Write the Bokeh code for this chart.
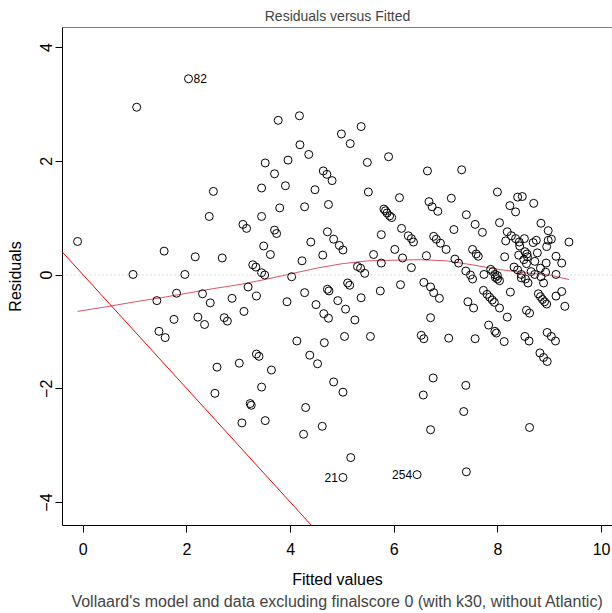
from bokeh.plotting import figure
from bokeh.models import Span, Slope, FixedTicker, Title, Range1d
from bokeh.core.properties import value
from bokeh.embed import file_html
from bokeh.resources import INLINE

FONT = "Liberation Sans"

# Fitted values / residuals
fitted = [2.03, 1.03, 2.51, 2.43, 3.08, 3.15, -0.11, 1.56, 2.16, 2.68, 3.27, 0.96, 1.96,
          3.76, 4.17, 4.98, 5.36, 5.15, 4.18, 4.35, 5.89, 3.51, 3.95, 5.48, 3.69, 4.63, 4.70,
          4.80, 6.64, 3.44, 3.90, 4.47, 5.50, 6.10, 6.67, 6.73, 3.79, 4.27, 4.73, 3.44,
          5.80, 5.83, 5.86, 5.91, 5.95, 3.69, 3.73, 4.71, 4.83, 4.94, 5.01, 4.39, 3.48, 3.61,
          4.62, 4.22, 5.75, 6.14, 6.27, 6.33, 6.37, 6.01, 5.60, 5.75, 6.16, 6.33, 6.62, 6.76,
          3.33, 3.44, 3.50, 4.02, 5.29, 5.35, 5.43,
          7.30, 7.99, 7.10, 8.38, 8.47, 8.69, 8.23, 8.34, 6.84, 7.39, 7.56, 7.70, 7.15, 8.03,
          8.83, 8.97, 8.18, 8.26, 8.34, 8.41, 8.15, 8.51, 8.68, 8.74, 8.97, 9.03, 8.94, 9.37,
          6.81, 6.89, 7.00, 7.51, 7.58, 7.62, 8.42, 8.13, 8.40, 8.52, 8.56, 8.57, 8.76, 9.12,
          7.17, 7.24, 9.23, 8.50, 8.55, 8.71, 8.93, 7.38, 7.47, 7.73, 7.86, 7.90, 7.94, 7.99,
          8.31, 8.38, 8.45, 8.82, 8.92, 9.12, 8.64, 8.71,
          7.51, 7.95, 7.99, 8.03, 8.53, 8.58, 8.88, 6.70, 6.76, 6.87, 7.42, 7.53, 7.72, 7.79,
          7.84, 7.89, 7.93, 8.03, 8.24, 8.18, 8.55, 8.61, 8.78, 8.82, 8.86, 8.90, 8.94, 9.12,
          9.23, 9.29, 7.82, 7.94, 7.97, 8.12, 7.05, 7.56, 8.52, 8.60, 8.95, 9.03, 9.11, 8.81,
          8.88, 8.95, 6.75, 7.38, 7.34, 8.61, 6.70, 7.39, 8.45, 8.83,
          1.42, 1.80, 2.30, 2.45, 2.87, 3.18, 3.10, 1.75, 2.21, 2.34, 2.72, 2.78, 1.46, 1.58,
          2.58, 3.01, 2.54, 3.22, 3.24, 3.06,
          3.34, 3.93, 4.27, 4.49, 4.71, 4.74, 4.91, 4.64, 4.73, 5.06, 5.24, 5.10, 5.14, 5.36,
          5.73, 6.12, 6.57, 6.70, 6.52, 6.57, 4.12, 4.65, 5.04, 5.54, 3.34, 3.39, 4.37, 4.52,
          3.63, 3.44, 4.83, 5.01, 3.51, 4.29, 4.61, 4.25, 5.16, 5.01, 6.44, 6.56]

residuals = [3.45, 2.95, 1.47, 1.03, 0.89, 0.82, 0.59, 0.42, 0.32, 0.30, 0.18, 0.01, 0.01,
             2.72, 2.80, 2.48, 2.61, 2.31, 2.29, 2.12, 2.08, 1.97, 2.02, 1.98, 1.78, 1.83, 1.77,
             1.66, 1.83, 1.53, 1.57, 1.50, 1.46, 1.36, 1.29, 1.20, 1.18, 1.20, 1.24, 1.03,
             1.16, 1.13, 1.09, 1.04, 1.01, 0.79, 0.73, 0.76, 0.63, 0.52, 0.44, 0.58, 0.51, 0.36,
             0.35, 0.25, 0.71, 0.82, 0.69, 0.64, 0.58, 0.45, 0.36, 0.21, 0.30, 0.13, 0.34, 0.68,
             0.14, 0.04, 0.00, -0.03, 0.15, 0.12, 0.03,
             1.85, 1.46, 1.35, 1.37, 1.38, 1.26, 1.22, 1.11, 1.12, 1.06, 0.89, 0.75, 0.80, 0.92,
             0.91, 0.78, 0.76, 0.69, 0.64, 0.58, 0.60, 0.64, 0.57, 0.61, 0.61, 0.63, 0.50, 0.58,
             0.63, 0.56, 0.45, 0.45, 0.37, 0.33, 0.51, 0.32, 0.35, 0.41, 0.37, 0.32, 0.39, 0.33,
             0.28, 0.21, 0.21, 0.27, 0.20, 0.24, 0.21, 0.07, 0.00, 0.01, 0.10, 0.06, 0.01, -0.01,
             0.14, 0.09, 0.01, 0.12, 0.05, 0.01, 0.06, 0.01,
             -0.07, -0.04, -0.07, -0.10, -0.07, -0.14, -0.14, -0.21, -0.31, -0.41, -0.47, -0.58,
             -0.27, -0.34, -0.39, -0.44, -0.48, -0.58, -0.30, -0.74, -0.62, -0.67, -0.33, -0.38,
             -0.43, -0.47, -0.51, -0.37, -0.29, -0.55, -0.88, -0.99, -1.02, -1.17, -1.11, -1.12,
             -1.08, -1.16, -1.01, -1.08, -1.16, -1.37, -1.45, -1.52, -1.81, -1.94, -2.40, -2.68,
             -2.72, -3.46, -0.05, -0.03,
             -0.45, -0.32, -0.33, -0.49, -0.41, -0.21, -0.64, -0.78, -0.74, -0.87, -0.75, -0.81,
             -0.99, -1.10, -1.62, -1.55, -2.08, -2.26, -2.29, -2.60,
             -0.37, -0.47, -0.31, -0.52, -0.25, -0.28, -0.45, -0.68, -0.76, -0.60, -0.79, -0.14,
             -0.18, -0.40, -0.28, -0.17, -0.13, -0.75, -1.06, -1.12, -1.16, -1.19, -1.08, -1.08,
             -1.39, -1.43, -1.41, -1.56, -1.67, -1.97, -1.88, -2.06, -2.56, -2.33, -2.66, -2.80,
             -3.21, -3.56, -3.51, -2.11]

# smoothed (lowess) curve
smooth_x = [-0.11, 0.5, 1.0, 1.5, 2.0, 2.5, 3.0, 3.5, 4.0, 4.5, 5.0, 5.5, 6.0, 6.5, 7.0,
            7.5, 8.0, 8.5, 9.0, 9.37]
smooth_y = [-0.64, -0.55, -0.47, -0.40, -0.32, -0.24, -0.17, -0.08, 0.02, 0.12, 0.20, 0.25,
            0.26, 0.27, 0.25, 0.18, 0.10, 0.04, 0.00, -0.08]

# labelled points
lab_x_right = [2.03]
lab_y_right = [3.45]
lab_text_right = ["82"]
lab_x_left = [5.01, 6.44]
lab_y_left = [-3.56, -3.51]
lab_text_left = ["21", "254"]

x_ticks = [0, 2, 4, 6, 8, 10]
y_ticks = [-4, -2, 0, 2, 4]

p = figure(width=612, height=613, output_backend="svg", toolbar_location=None,
           x_range=Range1d(-0.401, 10.21), y_range=Range1d(-4.404, 4.352),
           min_border_left=62, min_border_right=0, min_border_top=27, min_border_bottom=88)
p.background_fill_color = "white"
p.border_fill_color = "white"
p.outline_line_color = None
p.grid.visible = False

p.title.text = "Residuals versus Fitted"
p.title.text_font = FONT
p.title.text_font_size = "14px"
p.title.text_font_style = "normal"
p.title.align = "center"
p.title.offset = 4
p.title.standoff = 8

for ax in (p.xaxis[0], p.yaxis[0]):
    ax.axis_line_color = "black"
    ax.major_tick_line_color = "black"
    ax.minor_tick_line_color = None
    ax.major_tick_out = 7
    ax.major_tick_in = 0
    ax.major_label_text_font = FONT
    ax.major_label_text_font_size = "16px"
    ax.axis_label_text_font = FONT
    ax.axis_label_text_font_size = "16px"
    ax.axis_label_text_font_style = "normal"
    ax.axis_label_text_color = "black"
    ax.major_label_text_color = "black"

p.xaxis.ticker = FixedTicker(ticks=x_ticks)
p.yaxis.ticker = FixedTicker(ticks=y_ticks)
p.xaxis.axis_label = "Fitted values"
p.yaxis.axis_label = "Residuals"
p.xaxis.major_label_standoff = 10
p.xaxis.axis_label_standoff = 13
p.yaxis.major_label_orientation = "vertical"
p.yaxis.major_label_standoff = 3
p.yaxis.axis_label_standoff = 14
p.yaxis.major_label_overrides = {-4: "\u22124", -2: "\u22122", 0: "0", 2: "2", 4: "4"}

sub = Title(text="Vollaard's model and data excluding finalscore 0 (with k30, without Atlantic)",
            align="center", text_font=FONT, text_font_size="16px", text_font_style="normal",
            standoff=0, offset=4)
p.add_layout(sub, "below")

top = Span(location=4.352, dimension="width", line_color="black", line_width=1)
p.add_layout(top)

zero = Span(location=0, dimension="width", line_color="#BEBEBE", line_width=1, line_dash="1 3")
p.add_layout(zero)

p.add_layout(Slope(gradient=-1, y_intercept=0, line_color="#FF0000", line_width=1))

p.line(smooth_x, smooth_y, line_color="#DF536B", line_width=1)

p.scatter(fitted, residuals, marker="circle", size=8, fill_color=None,
          line_color="black", line_width=1)

p.text(lab_x_right, lab_y_right, text=lab_text_right, x_offset=5,
       text_font=value(FONT), text_font_size="12px", text_align="left",
       text_baseline="middle", text_color="black")
p.text(lab_x_left, lab_y_left, text=lab_text_left, x_offset=-5,
       text_font=value(FONT), text_font_size="12px", text_align="right",
       text_baseline="middle", text_color="black")

open("out.html", "w").write(file_html(p, INLINE))
